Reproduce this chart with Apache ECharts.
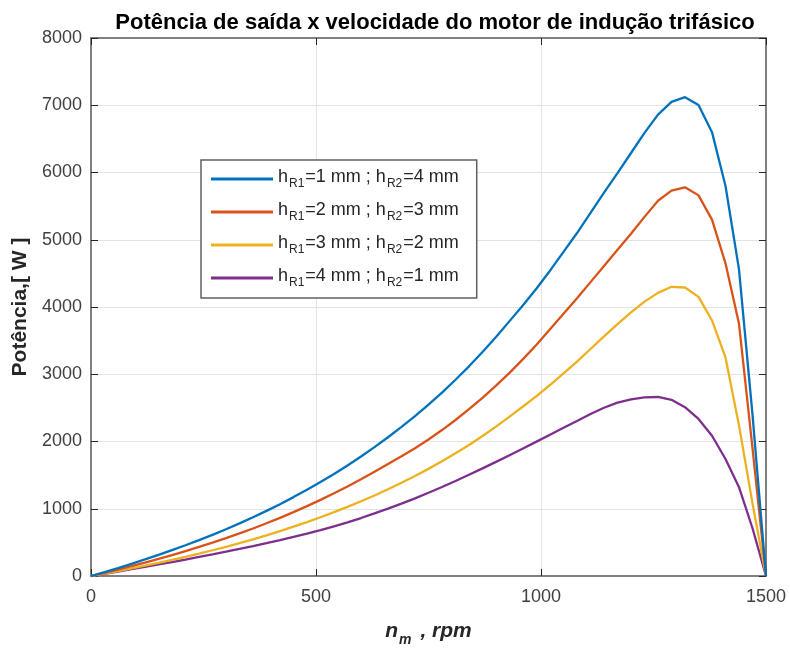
<!DOCTYPE html>
<html>
<head>
<meta charset="utf-8">
<script src="https://cdn.jsdelivr.net/npm/echarts@6/dist/echarts.min.js"></script>
<style>
  html, body { margin: 0; padding: 0; background: #ffffff; }
  #chart { width: 790px; height: 650px; }
</style>
</head>
<body>
<div id="chart"></div>
<script>
// Rotor speed samples (rpm)
const rpm = [0, 30, 60, 90, 120, 150, 180, 210, 240, 270, 300, 330, 360, 390, 420, 450, 480, 510, 540, 570,
  600, 630, 660, 690, 720, 750, 780, 810, 840, 870, 900, 930, 960, 990, 1020, 1050, 1080, 1110, 1140, 1170,
  1200, 1230, 1260, 1290, 1320, 1350, 1380, 1410, 1440, 1470, 1500];

// Output power (W) for each rotor bar geometry
const powerR1_1_R2_4 = [0, 58, 118, 181, 246, 314, 384, 457, 533, 612, 695, 782, 873, 968, 1068, 1173, 1283, 1398, 1518, 1644,
  1777, 1916, 2063, 2217, 2378, 2549, 2728, 2918, 3118, 3330, 3554, 3790, 4025, 4275, 4540, 4820, 5100, 5400, 5700, 5990,
  6290, 6590, 6860, 7050, 7120, 7005, 6600, 5800, 4560, 2400, 0];
const powerR1_2_R2_3 = [0, 47, 96, 147, 199, 254, 311, 370, 432, 496, 563, 633, 707, 784, 865, 950, 1039, 1132, 1230, 1332,
  1439, 1552, 1665, 1782, 1900, 2030, 2170, 2320, 2480, 2650, 2830, 3020, 3225, 3440, 3670, 3900, 4130, 4370, 4610, 4850,
  5090, 5340, 5580, 5730, 5780, 5660, 5300, 4650, 3750, 1900, 0];
const powerR1_3_R2_2 = [0, 36, 74, 113, 154, 196, 240, 286, 333, 383, 434, 489, 546, 605, 668, 733, 802, 874, 949, 1028,
  1111, 1198, 1289, 1386, 1486, 1593, 1705, 1824, 1949, 2081, 2221, 2369, 2520, 2675, 2840, 3013, 3188, 3375, 3563, 3744,
  3920, 4080, 4210, 4300, 4290, 4150, 3800, 3250, 2240, 1080, 0];
const powerR1_4_R2_1 = [0, 33, 67, 101, 136, 172, 208, 245, 283, 322, 362, 403, 445, 489, 534, 581, 630, 681, 738, 798,
  862, 930, 1001, 1076, 1155, 1238, 1324, 1413, 1505, 1600, 1697, 1796, 1897, 1998, 2100, 2203, 2305, 2408, 2502, 2578,
  2628, 2656, 2662, 2620, 2510, 2335, 2085, 1740, 1320, 710, 0];

// Legend labels: [h_R1, h_R2] in mm
const legendPairs = [[1, 4], [2, 3], [3, 2], [4, 1]];
const seriesColors = ['#0072BD', '#D95319', '#EDB120', '#7E2F8E'];
const seriesValues = [powerR1_1_R2_4, powerR1_2_R2_3, powerR1_3_R2_2, powerR1_4_R2_1];

const xTicks = { min: 0, max: 1500, interval: 500 };
const yTicks = { min: 0, max: 8000, interval: 1000 };

const FONT = '"Liberation Sans", Arial, Helvetica, sans-serif';
const AXIS_GRAY = '#808080';
const LABEL_GRAY = '#404040';

const names = legendPairs.map(p => 'hR1=' + p[0] + ' mm ; hR2=' + p[1] + ' mm');

const series = seriesValues.map((vals, i) => ({
  name: names[i],
  type: 'line',
  data: rpm.map((r, k) => [r, vals[k]]),
  showSymbol: false,
  symbol: 'none',
  smooth: false,
  lineStyle: { color: seriesColors[i], width: 2.3 },
  itemStyle: { color: seriesColors[i] },
  z: 10 - i,
  animation: false
}));

const chart = echarts.init(document.getElementById('chart'), null, { renderer: 'canvas' });

const plainAxis = (extra) => Object.assign({
  type: 'value',
  axisLine: { show: true, onZero: false, lineStyle: { color: AXIS_GRAY, width: 2 } },
  axisTick: { show: true, inside: true, length: 7, lineStyle: { color: '#262626', width: 1 } },
  splitLine: { show: false },
  axisLabel: { show: false }
}, extra);

const plainNumber = (v) => String(v);

chart.setOption({
  animation: false,
  backgroundColor: '#ffffff',
  title: {
    text: 'Potência de saída x velocidade do motor de indução trifásico',
    left: 430,
    top: 7,
    textAlign: 'center',
    textStyle: { fontFamily: FONT, fontSize: 22, fontWeight: 'bold', color: '#000000' }
  },
  grid: { left: 91, right: 24, top: 38, bottom: 74, containLabel: false, outerBoundsMode: 'none' },
  legend: {
    orient: 'vertical',
    left: 201,
    top: 160,
    padding: [8, 18, 9, 10],
    itemGap: 11,
    itemWidth: 62,
    itemHeight: 3,
    icon: 'rect',
    backgroundColor: '#ffffff',
    borderColor: '#606060',
    borderWidth: 1.5,
    borderRadius: 0,
    selectedMode: false,
    data: names.map((n, i) => ({ name: n, itemStyle: { color: seriesColors[i] } })),
    formatter: (name) => {
      const idx = names.indexOf(name);
      const p = legendPairs[idx];
      return '{n|h}{s|R1}{n|=' + p[0] + ' mm ; h}{s|R2}{n|=' + p[1] + ' mm}';
    },
    textStyle: {
      fontFamily: FONT,
      color: '#262626',
      rich: {
        n: { fontFamily: FONT, fontSize: 18, color: '#262626', lineHeight: 22, verticalAlign: 'bottom', padding: [0, 0, 4, 0] },
        s: { fontFamily: FONT, fontSize: 12, color: '#262626', lineHeight: 12, verticalAlign: 'bottom', padding: [0, 1, 0, 1] }
      }
    }
  },
  xAxis: [
    {
      type: 'value',
      min: xTicks.min, max: xTicks.max, interval: xTicks.interval,
      position: 'bottom',
      name: '{i|n}{s|m}{i| , rpm}',
      nameLocation: 'middle',
      nameGap: 47,
      nameTextStyle: {
        rich: {
          i: { fontFamily: FONT, fontSize: 21, fontWeight: 'bold', fontStyle: 'italic', color: '#262626', verticalAlign: 'bottom', lineHeight: 24, padding: [0, 0, 5, 0] },
          s: { fontFamily: FONT, fontSize: 14, fontWeight: 'bold', fontStyle: 'italic', color: '#262626', verticalAlign: 'bottom', lineHeight: 14, padding: [0, 3, 0, 1] }
        }
      },
      axisLine: { show: true, onZero: false, lineStyle: { color: AXIS_GRAY, width: 2 } },
      axisTick: { show: true, inside: true, length: 7, lineStyle: { color: '#262626', width: 1 } },
      axisLabel: { show: true, margin: 12, fontFamily: FONT, fontSize: 18, color: LABEL_GRAY, formatter: plainNumber },
      splitLine: { show: true, lineStyle: { color: '#e3e3e3', width: 1 } }
    },
    plainAxis({ min: xTicks.min, max: xTicks.max, interval: xTicks.interval, position: 'top' })
  ],
  yAxis: [
    {
      type: 'value',
      min: yTicks.min, max: yTicks.max, interval: yTicks.interval,
      position: 'left',
      name: 'Potência,[ W ]',
      nameLocation: 'middle',
      nameGap: 51,
      nameRotate: 90,
      nameTextStyle: { fontFamily: FONT, fontSize: 21, fontWeight: 'bold', color: '#262626' },
      axisLine: { show: true, onZero: false, lineStyle: { color: AXIS_GRAY, width: 2 } },
      axisTick: { show: true, inside: true, length: 7, lineStyle: { color: '#262626', width: 1 } },
      axisLabel: { show: true, margin: 9, fontFamily: FONT, fontSize: 18, color: LABEL_GRAY, formatter: plainNumber },
      splitLine: { show: true, lineStyle: { color: '#e3e3e3', width: 1 } }
    },
    plainAxis({ min: yTicks.min, max: yTicks.max, interval: yTicks.interval, position: 'right' })
  ],
  series: series
});
</script>
</body>
</html>
